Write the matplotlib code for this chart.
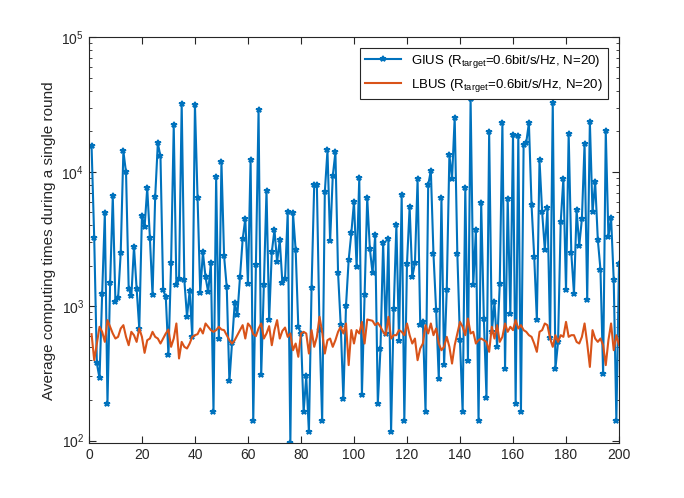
import numpy as np
import matplotlib
matplotlib.use("Agg")
import matplotlib.pyplot as plt
from matplotlib.ticker import LogLocator, NullFormatter

plt.rcParams['font.family'] = ['Liberation Sans', 'DejaVu Sans']
plt.rcParams['mathtext.fontset'] = 'custom'
plt.rcParams['mathtext.rm'] = 'Liberation Sans'
plt.rcParams['mathtext.it'] = 'Liberation Sans:italic'

# rounds 1..200
rounds = np.arange(1, 201)

# GIUS (blue, with markers)
gius = [
    15500, 3200, 375, 290, 1240, 4900, 188, 1480, 6600, 1070,
    1140, 2500, 14200, 9900, 1350, 1180, 2770, 1350, 680, 4700,
    3870, 7550, 3240, 1200, 6500, 16300, 13000, 1320, 1170, 430,
    2080, 22100, 1430, 1580, 32100, 1560, 835, 1290, 590, 31500,
    6400, 1255, 2520, 1640, 1270, 2080, 163, 9100, 570, 11900,
    2350, 1380, 275, 530, 1050, 860, 1640, 3140, 4470, 1470,
    12300, 139, 2010, 28800, 305, 1430, 7250, 790, 2520, 3700,
    2130, 3100, 1480, 1600, 5000, 95.5, 4900, 2620, 700, 620,
    163, 300, 115, 1370, 8000, 8000, 667, 139, 7070, 14400,
    3030, 9300, 14000, 1760, 720, 205, 1010, 2210, 3480, 5960,
    1950, 9030, 220, 1200, 6400, 2670, 1760, 3360, 188, 482,
    2970, 624, 3140, 116, 955, 3990, 546, 6670, 140, 2070,
    5460, 1640, 2090, 8770, 727, 760, 163, 7940, 10200, 2430,
    930, 285, 6400, 362, 1320, 13300, 8900, 25300, 2460, 556,
    163, 7630, 390, 35000, 1430, 3660, 140, 5850, 806, 208,
    19800, 640, 1070, 500, 1450, 23100, 342, 6320, 877, 18700,
    188, 18400, 163, 15700, 16500, 23100, 5630, 2330, 790, 12200,
    5000, 2630, 5350, 582, 32600, 342, 540, 4220, 8900, 1310,
    19200, 2480, 1240, 5150, 2820, 4480, 16200, 1120, 23500, 5000,
    8380, 3120, 1870, 314, 20100, 3270, 4550, 1570, 140, 2050,
]

# LBUS (orange line)
lbus = [
    619, 396, 527, 702, 644, 542, 787, 702, 626, 574,
    591, 682, 722, 591, 512, 644, 608, 542, 682, 591,
    449, 558, 574, 644, 591, 574, 527, 574, 626, 670,
    498, 574, 743, 408, 542, 498, 484, 527, 591, 608,
    619, 682, 626, 743, 702, 663, 644, 663, 702, 670,
    663, 608, 558, 527, 558, 608, 663, 722, 574, 743,
    702, 619, 598, 682, 743, 574, 626, 710, 512, 663,
    787, 574, 655, 693, 591, 626, 470, 527, 420, 626,
    644, 626, 444, 663, 498, 591, 833, 644, 444, 558,
    574, 498, 558, 644, 702, 626, 743, 364, 663, 527,
    663, 626, 764, 527, 796, 787, 778, 722, 751, 702,
    644, 608, 833, 574, 608, 608, 663, 644, 608, 743,
    608, 527, 574, 396, 484, 527, 722, 626, 743, 608,
    682, 527, 470, 498, 591, 498, 374, 512, 626, 764,
    702, 608, 809, 626, 644, 527, 558, 574, 558, 542,
    457, 702, 574, 722, 542, 591, 743, 644, 702, 663,
    787, 682, 722, 663, 644, 608, 591, 527, 457, 644,
    663, 743, 722, 574, 498, 608, 542, 608, 591, 764,
    591, 608, 608, 542, 527, 591, 743, 527, 353, 663,
    574, 542, 574, 512, 364, 558, 743, 470, 608, 512,
]

fig = plt.figure(figsize=(6.84, 4.98), dpi=100)
ax = fig.add_axes([0.13, 0.11, 0.775, 0.815])

ax.plot(rounds, gius, color='#0072BD', lw=1.5, marker='*', ms=4, mew=1.2,
        label=r'GIUS (R$_{\mathrm{target}}$=0.6bit/s/Hz, N=20)')
ax.plot(rounds, lbus, color='#D95319', lw=1.5,
        label=r'LBUS (R$_{\mathrm{target}}$=0.6bit/s/Hz, N=20)')

ax.set_yscale('log')
ax.set_xlim(0, 200)
ax.set_ylim(95.5, 1e5)
ax.set_xticks(np.arange(0, 201, 20))
ax.yaxis.set_major_locator(LogLocator(base=10, numticks=10))
ax.yaxis.set_minor_locator(LogLocator(base=10, subs=np.arange(2, 10), numticks=10))
ax.yaxis.set_minor_formatter(NullFormatter())

grey = '#262626'
for s in ax.spines.values():
    s.set_color(grey)
    s.set_linewidth(0.8)
ax.tick_params(which='both', direction='in', top=True, right=True, colors=grey,
               labelsize=10, labelcolor=grey)
ax.tick_params(which='major', length=5)
ax.tick_params(which='minor', length=2.5)

ax.set_ylabel('Average computing times during a single round', fontsize=11, color=grey)

leg = ax.legend(loc='upper right', fontsize=9.5, fancybox=False, framealpha=1,
                edgecolor=grey, borderaxespad=0.8, handlelength=2.7)
leg.get_frame().set_linewidth(0.8)

fig.savefig('out.png', dpi=100)
